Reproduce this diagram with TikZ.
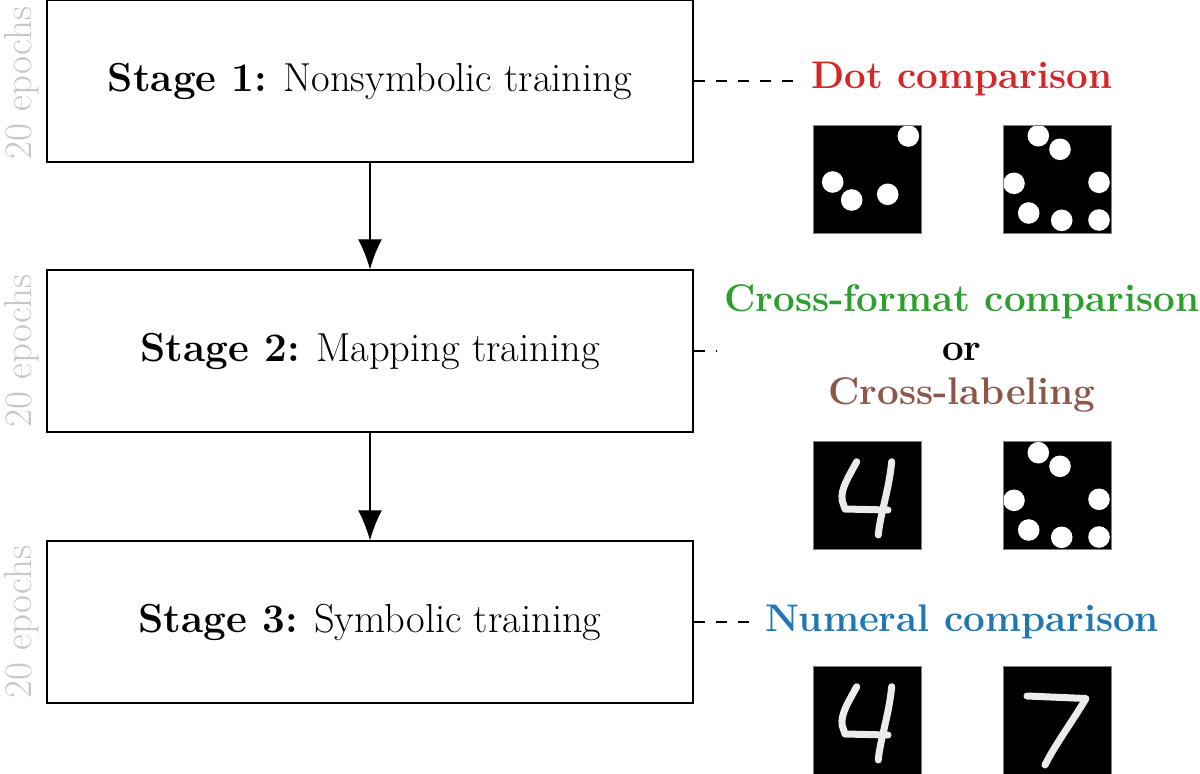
\documentclass[tikz,border=0pt]{standalone}
\usetikzlibrary{arrows.meta}
\definecolor{tabred}{HTML}{D62728}
\definecolor{tabgreen}{HTML}{2CA02C}
\definecolor{tabbrown}{HTML}{8C564B}
\definecolor{tabblue}{HTML}{1F77B4}
\begin{document}
\begin{tikzpicture}[x=1pt,y=-1pt,
  bigfont/.style={font=\fontsize{40.5}{48}\selectfont},
  stagebox/.style={draw, line width=1.4pt, minimum width=646pt, minimum height=162pt, inner sep=0pt, bigfont},
  lbl/.style={inner sep=2pt, font=\fontsize{38.5}{46}\selectfont\bfseries},
  epochs/.style={rotate=90, text=black!22, font=\fontsize{39}{46}\selectfont, inner sep=0pt},
  conn/.style={line width=1.2pt, dash pattern=on 11pt off 11pt, shorten >=10pt},
  flow/.style={line width=1.2pt, -{Latex[length=30pt,width=24pt]}},
  pic/.style={fill=black, draw=black!50, line width=0.6pt},
  dot/.style={fill=white},
  digit/.style={draw=white!92!black, line width=7pt, line cap=round, line join=round}
]
\useasboundingbox (0,0) rectangle (1200,774);

% stage boxes
\node[stagebox] (s1) at (370,81) {\textbf{Stage 1:} Nonsymbolic training};
\node[stagebox] (s2) at (370,351) {\textbf{Stage 2:} Mapping training};
\node[stagebox] (s3) at (370,622) {\textbf{Stage 3:} Symbolic training};

\draw[flow] (s1) -- (s2);
\draw[flow] (s2) -- (s3);

% epochs
\node[epochs] (e1) at (22,83) {20 epochs};
\node[epochs] (e2) at (22,351) {20 epochs};
\node[epochs] (e3) at (22,622) {20 epochs};

% task labels
\node[lbl, text=tabred] (t1) at (962,79) {Dot comparison};
\node[lbl, text=tabgreen] (t2a) at (962,302) {Cross-format comparison};
\node[lbl] (t2b) at (962,352) {or};
\node[lbl, text=tabbrown] (t2c) at (962,395) {Cross-labeling};
\node[lbl, text=tabblue] (t3) at (962,622) {Numeral comparison};
\coordinate (m2) at (726,351);

\draw[conn] (s1.east) -- (s1.east -| t1.west);
\draw[conn] (s2.east) -- (m2);
\draw[conn] (s3.east) -- (s3.east -| t3.west);

% row 1 dot images
\begin{scope}
  \clip (813,125) rectangle (921,233);
  \fill[black] (813,125) rectangle (921,233);
  \foreach \p in {(908.3,136),(832.7,182),(851.7,200),(887.7,194.3)}
    \fill[dot] \p circle (10.8);
\end{scope}
\draw[draw=black!50, line width=0.6pt] (813,125) rectangle (921,233);
\begin{scope}
  \clip (1003,125) rectangle (1111,233);
  \fill[black] (1003,125) rectangle (1111,233);
  \foreach \p in {(1038.3,135.7),(1060,149.3),(1014,183.3),(1099,182.3),(1028.7,213),(1061.7,220.3),(1099,220)}
    \fill[dot] \p circle (10.8);
\end{scope}
\draw[draw=black!50, line width=0.6pt] (1003,125) rectangle (1111,233);

% row 2 images
\fill[pic] (813,441) rectangle (921,549);
\draw[digit] (856.7,461.7) .. controls (848,478) and (841,488) .. (842,500) -- (845,509) -- (888,510);
\draw[digit] (891.7,461.7) .. controls (889,490) and (880,515) .. (878.3,535);
\begin{scope}
  \clip (1003,441) rectangle (1111,549);
  \fill[black] (1003,441) rectangle (1111,549);
  \foreach \p in {(1038.3,452.7),(1060,466.3),(1014,500.3),(1099,499.3),(1028.7,530),(1061.7,537.3),(1099,537)}
    \fill[dot] \p circle (10.8);
\end{scope}
\draw[draw=black!50, line width=0.6pt] (1003,441) rectangle (1111,549);

% row 3 images
\fill[pic] (813,666) rectangle (921,774);
\draw[digit] (856.7,686.7) .. controls (848,703) and (841,713) .. (842,725) -- (845,734) -- (888,735);
\draw[digit] (891.7,686.7) .. controls (889,715) and (880,740) .. (878.3,760);
\fill[pic] (1003,666) rectangle (1111,774);
\draw[digit] (1027,696) -- (1086,698.5) .. controls (1070,725) and (1055,745) .. (1045,765);
\end{tikzpicture}
\end{document}
